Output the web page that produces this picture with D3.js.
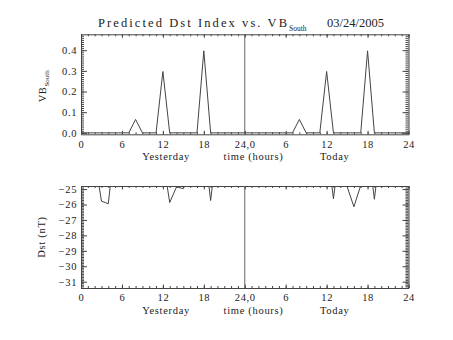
<!DOCTYPE html>
<html><head><meta charset="utf-8">
<script src="https://cdn.jsdelivr.net/npm/d3@7"></script>
<style>
html,body{margin:0;padding:0;background:#fff;}
svg{display:block;}
text,tspan{font-family:"Liberation Serif","Times New Roman",serif;fill:#222;}
</style></head>
<body>
<svg id="c" width="453" height="340"></svg>
<script>
// ---- data ----
const hours = d3.range(0, 49);
const vbSouth = [0,0,0,0,0,0,0,0,0.065,0,0,0,0.297,0,0,0,0,0,0.397,0,0,0,0,0,
                 0,0,0,0,0,0,0,0,0.065,0,0,0,0.297,0,0,0,0,0,0.397,0,0,0,0,0,0];
const dst = [-22,-22,-23,-25.78,-25.95,-22,-22,-22,-22,-22,-22,-22,-23,-25.87,-24.86,-24.97,-22,-22,-22,-25.74,-22,-22,-22,-22,
             -22,-22,-22,-22,-22,-22,-22,-22,-22,-22,-22,-22,-22,-25.63,-22,-24.83,-26.15,-24.76,-22,-25.66,-22,-22,-22,-22,-22];
const xTickValues = [0,6,12,18,24,30,36,42,48];
const xTickLabels = ["0","6","12","18","24,0","6","12","18","24"];
const vbTicks = [0,0.1,0.2,0.3,0.4];
const dstTicks = [-31,-30,-29,-28,-27,-26,-25];
const titleMain = "Predicted Dst Index vs. VB";
const titleSub = "South";
const titleDate = "03/24/2005";
const xTitleParts = ["Yesterday","time (hours)","Today"];

const svg = d3.select("#c");
svg.append("rect").attr("width",453).attr("height",340).attr("fill","#fff");

const L = 81, R = 408.5;
const x = d3.scaleLinear().domain([0,48]).range([L,R]);
const lineCol = "#444";
const FS = 10.5;

function panel(top, bottom, yDomain, yTicks, yFmt, yMinorStep, values, ytitleFn, xLabelBase) {
  const y = d3.scaleLinear().domain(yDomain).range([bottom, top]);
  const g = svg.append("g");
  const clipId = "clip" + Math.round(top);
  svg.append("clipPath").attr("id", clipId).append("rect")
    .attr("x", L).attr("y", top).attr("width", R-L).attr("height", bottom-top);

  const minorX = d3.range(0,49,1);
  const yMinor = d3.range(Math.ceil(yDomain[0]/yMinorStep), Math.floor(yDomain[1]/yMinorStep)+1).map(v=>+(v*yMinorStep).toFixed(4));

  function styleAxis(sel){ sel.selectAll("path,line").attr("stroke",lineCol).attr("stroke-width",1); sel.selectAll("text").attr("fill","#222"); }

  // minor ticks
  g.append("g").attr("transform",`translate(0,${bottom})`)
    .call(d3.axisBottom(x).tickValues(minorX).tickSize(-2).tickFormat(""))
    .call(s=>s.select(".domain").remove()).call(styleAxis);
  g.append("g").attr("transform",`translate(0,${top})`)
    .call(d3.axisTop(x).tickValues(minorX).tickSize(-2).tickFormat(""))
    .call(s=>s.select(".domain").remove()).call(styleAxis);
  g.append("g").attr("transform",`translate(${L},0)`)
    .call(d3.axisLeft(y).tickValues(yMinor).tickSize(-3).tickFormat(""))
    .call(s=>s.select(".domain").remove()).call(styleAxis);
  g.append("g").attr("transform",`translate(${R},0)`)
    .call(d3.axisRight(y).tickValues(yMinor).tickSize(-3).tickFormat(""))
    .call(s=>s.select(".domain").remove()).call(styleAxis);

  // major axes
  g.append("g").attr("transform",`translate(0,${bottom})`)
    .call(d3.axisBottom(x).tickValues(xTickValues).tickSizeInner(-3.5).tickSizeOuter(0).tickPadding(6)
      .tickFormat((d,i)=>xTickLabels[i]))
    .call(styleAxis)
    .call(s=>s.selectAll("text").attr("font-size",FS).attr("font-family","Liberation Serif").attr("letter-spacing",0.6));
  g.append("g").attr("transform",`translate(0,${top})`)
    .call(d3.axisTop(x).tickValues(xTickValues).tickSizeInner(-3.5).tickSizeOuter(0).tickFormat(""))
    .call(styleAxis);
  g.append("g").attr("transform",`translate(${L},0)`)
    .call(d3.axisLeft(y).tickValues(yTicks).tickSizeInner(-6).tickSizeOuter(0).tickPadding(4).tickFormat(yFmt))
    .call(styleAxis)
    .call(s=>s.selectAll("text").attr("font-size",FS).attr("font-family","Liberation Serif").attr("letter-spacing",0.6));
  g.append("g").attr("transform",`translate(${R},0)`)
    .call(d3.axisRight(y).tickValues(yTicks).tickSizeInner(-6).tickSizeOuter(0).tickFormat(""))
    .call(styleAxis);

  // day divider
  g.append("line").attr("x1",x(24)).attr("x2",x(24)).attr("y1",top).attr("y2",bottom)
    .attr("stroke","#666").attr("stroke-width",1);

  // data line
  g.append("path").datum(values)
    .attr("clip-path",`url(#${clipId})`)
    .attr("fill","none").attr("stroke","#444").attr("stroke-width",1)
    .attr("d", d3.line().x((d,i)=>x(hours[i])).y(d=>y(d)));

  // x title
  const cx = (L+R)/2;
  const offs = [-78.6, 8.8, 90];
  xTitleParts.forEach((t,i)=>{
    g.append("text").attr("x",cx+offs[i]).attr("y",xLabelBase).attr("text-anchor","middle")
      .attr("font-size",FS).attr("letter-spacing",0.7).text(t);
  });

  ytitleFn(g, (top+bottom)/2);
}

// top panel
panel(34.3, 134.3, [-0.007, 0.477], vbTicks, d3.format(".1f"), 0.01, vbSouth,
  (g, cy) => {
    const t = g.append("text").attr("transform",`translate(45.5,${cy+2}) rotate(-90)`)
      .attr("text-anchor","middle").attr("font-size",FS).attr("letter-spacing",0.6).attr("fill","#222");
    t.append("tspan").attr("fill","#222").text("VB");
    t.append("tspan").attr("fill","#222").attr("font-size",7).attr("dy",3).attr("letter-spacing",0).text("South");
  }, 160);

// bottom panel
panel(186, 288, [-31.41, -24.8], dstTicks, d3.format("d"), 0.1, dst,
  (g, cy) => {
    g.append("text").attr("transform",`translate(45,${cy}) rotate(-90)`)
      .attr("text-anchor","middle").attr("font-size",FS).attr("letter-spacing",0.7).attr("fill","#222").text("Dst (nT)");
  }, 313.5);

// title
const tt = svg.append("text").attr("x",98).attr("y",27).attr("font-size",12.5).attr("fill","#222");
tt.append("tspan").attr("fill","#222").attr("textLength",189).attr("lengthAdjust","spacing").text(titleMain);
tt.append("tspan").attr("fill","#222").attr("font-size",7.5).attr("dy",4).text(titleSub);
svg.append("text").attr("x",327).attr("y",27).attr("font-size",12.5).attr("fill","#222")
  .attr("textLength",57).attr("lengthAdjust","spacing").text(titleDate);
</script>
</body></html>
